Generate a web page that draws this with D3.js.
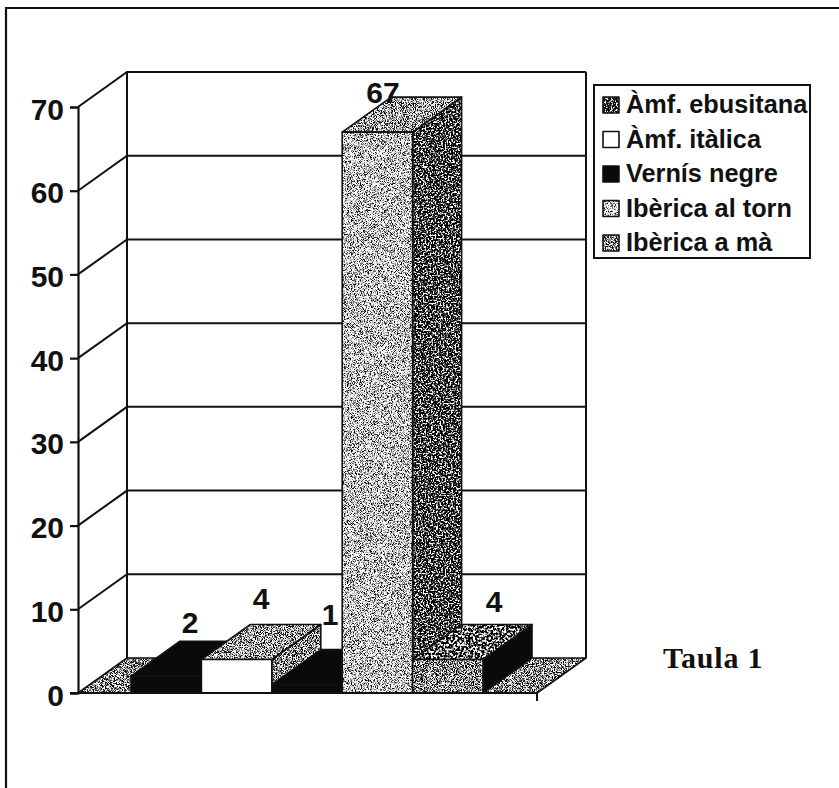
<!DOCTYPE html>
<html>
<head>
<meta charset="utf-8">
<script src="https://d3js.org/d3.v7.min.js"></script>
<style>
  html, body { margin: 0; padding: 0; background: #fff; }
  svg { display: block; }
  text { font-family: "Liberation Sans", Arial, sans-serif; font-weight: bold; fill: #111; }
</style>
</head>
<body>
<svg id="chart" width="839" height="788"></svg>
<script>
const seriesNames = ["Àmf. ebusitana", "Àmf. itàlica", "Vernís negre", "Ibèrica al torn", "Ibèrica a mà"];
const seriesValues = [2, 4, 1, 67, 4];
const yTicks = [0, 10, 20, 30, 40, 50, 60, 70];

const svg = d3.select("#chart");
const depthX = 49, depthY = -35;
const ink = "#111";

const y = d3.scaleLinear().domain([0, 70]).range([693, 107]);
const x = d3.scaleBand().domain(seriesNames).range([131, 483]);
const floorX = [78, 537];

// grainy filters to get the look of the scanned halftone
const defs = svg.append("defs");
function grain(id, mean, freq, slope) {
  const f = defs.append("filter").attr("id", id)
    .attr("x", 0).attr("y", 0).attr("width", "100%").attr("height", "100%")
    .attr("color-interpolation-filters", "sRGB");
  f.append("feTurbulence").attr("type", "fractalNoise").attr("baseFrequency", freq)
    .attr("numOctaves", 2).attr("seed", 4).attr("result", "n");
  f.append("feColorMatrix").attr("in", "n").attr("type", "matrix")
    .attr("values", "1 0 0 0 0 1 0 0 0 0 1 0 0 0 0 0 0 0 0 1").attr("result", "g");
  const t = f.append("feComponentTransfer").attr("in", "g").attr("result", "c");
  ["feFuncR", "feFuncG", "feFuncB"].forEach(c => {
    t.append(c).attr("type", "linear").attr("slope", slope).attr("intercept", mean - slope * 0.5);
  });
  f.append("feComposite").attr("in", "c").attr("in2", "SourceAlpha").attr("operator", "in");
}
grain("gLight", 0.8, 1.3, 4);
grain("gTop", 0.66, 1.1, 5);
grain("gMid", 0.56, 1.1, 5);
grain("gMott", 0.36, 0.45, 6);
grain("gDark", 0.16, 0.6, 6);

const solid = "#0a0a0a";
const faces = [
  { front: solid, top: solid, side: solid },
  { front: "#fff", top: "gTop", side: "gMid" },
  { front: solid, top: solid, side: solid },
  { front: "gLight", top: "gTop", side: "gDark" },
  { front: "gMid", top: "gMott", side: solid }
];
const legendFaces = ["gDark", "#fff", solid, "gLight", "gMid"];

// paints a face: either a plain colour or a grain filter
function face(g, d, style) {
  const p = g.append("path").attr("d", d);
  if (style.startsWith("g")) p.attr("fill", "#000").attr("filter", `url(#${style})`);
  else p.attr("fill", style);
  g.append("path").attr("d", d).attr("fill", "none").attr("stroke", ink)
    .attr("stroke-width", 1.6).attr("stroke-linejoin", "round");
}

// only the top and left edges of the frame are in the scan
svg.append("path").attr("d", d3.line()([[6, 788], [6, 8], [839, 8]]))
  .attr("fill", "none").attr("stroke", ink).attr("stroke-width", 2.2);

const line = d3.line();
const plot = svg.append("g");

// floor
face(plot.append("g"),
  line([[floorX[0], y(0)], [floorX[0] + depthX, y(0) + depthY], [floorX[1] + depthX, y(0) + depthY], [floorX[1], y(0)]]) + "Z",
  "gMid");

// back wall and side wall gridlines
yTicks.forEach(t => {
  if (t > 0) {
    plot.append("path")
      .attr("d", line([[floorX[0], y(t)], [floorX[0] + depthX, y(t) + depthY], [floorX[1] + depthX, y(t) + depthY]]))
      .attr("fill", "none").attr("stroke", ink).attr("stroke-width", 2);
  }
});
[floorX[0], floorX[1]].forEach(px => {
  plot.append("path")
    .attr("d", line([[px + depthX, y(0) + depthY], [px + depthX, y(70) + depthY]]))
    .attr("stroke", ink).attr("stroke-width", 2);
});

// bars, drawn left to right so each covers the one before
seriesNames.forEach((name, i) => {
  const x0 = x(name), x1 = x0 + x.bandwidth();
  const yTop = y(seriesValues[i]), yBase = y(0);
  const g = plot.append("g");
  face(g, line([[x1, yBase], [x1 + depthX, yBase + depthY], [x1 + depthX, yTop + depthY], [x1, yTop]]) + "Z", faces[i].side);
  face(g, line([[x0, yTop], [x0 + depthX, yTop + depthY], [x1 + depthX, yTop + depthY], [x1, yTop]]) + "Z", faces[i].top);
  face(g, line([[x0, yTop], [x1, yTop], [x1, yBase], [x0, yBase]]) + "Z", faces[i].front);
});

// axes
const axisY = d3.axisLeft(y).tickValues(yTicks).tickSize(8).tickPadding(6);
const yAxis = svg.append("g").attr("transform", `translate(${floorX[0]},0)`).call(axisY);
yAxis.selectAll("path, line").attr("stroke", ink).attr("stroke-width", 2.2);
yAxis.selectAll("text").attr("font-size", 30).attr("font-family", "Liberation Sans")
  .attr("font-weight", "bold").attr("fill", ink).attr("dy", "0.4em");

svg.append("path").attr("d", line([[floorX[0] - 8, y(0)], [floorX[1], y(0)], [floorX[1], y(0) + 8]]))
  .attr("fill", "none").attr("stroke", ink).attr("stroke-width", 2);

// data labels
const labelPos = [[190, 633], [261, 609], [330, 625], [383, 103], [494, 612]];
seriesValues.forEach((v, i) => {
  svg.append("text").attr("x", labelPos[i][0]).attr("y", labelPos[i][1])
    .attr("text-anchor", "middle").attr("font-size", 30).text(v);
});

// legend
svg.append("rect").attr("x", 594).attr("y", 85).attr("width", 216).attr("height", 173)
  .attr("fill", "#fff").attr("stroke", ink).attr("stroke-width", 2);
const legendY = d3.scalePoint().domain(seriesNames).range([113, 251]);
seriesNames.forEach((name, i) => {
  const sy = legendY(name);
  const g = svg.append("g");
  face(g, line([[603, sy - 16], [619, sy - 16], [619, sy], [603, sy]]) + "Z", legendFaces[i]);
  svg.append("text").attr("x", 626).attr("y", sy).attr("font-size", 25.3).text(name);
});

svg.append("text").attr("x", 663).attr("y", 668)
  .style("font-family", "Liberation Serif").attr("font-size", 30).attr("letter-spacing", 0.8).text("Taula 1");
</script>
</body>
</html>
